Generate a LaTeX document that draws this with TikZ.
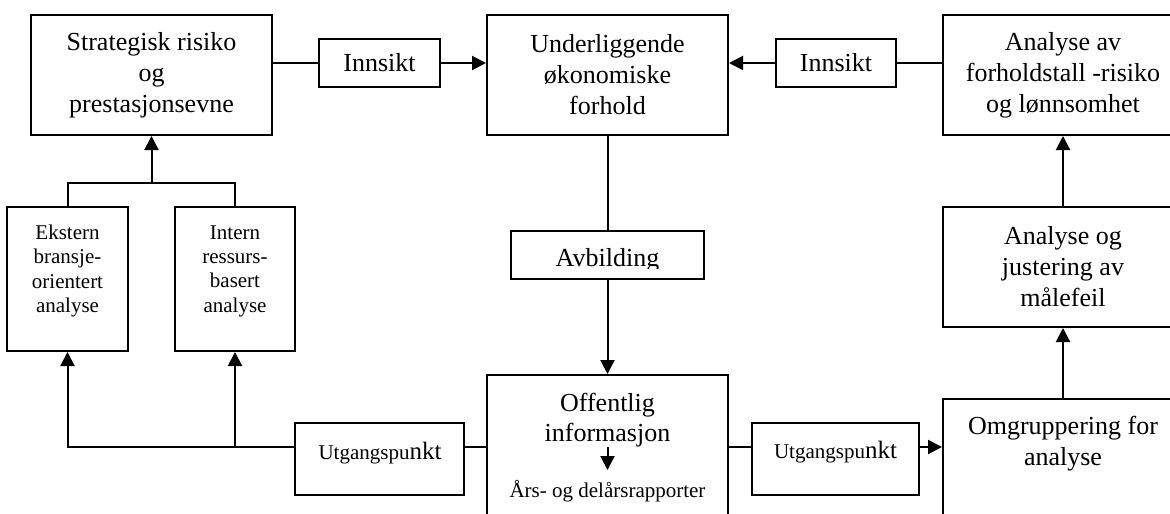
\documentclass[tikz,border=0pt]{standalone}
\usepackage{fontspec}
\setmainfont{Liberation Serif}
\usetikzlibrary{arrows.meta}
\newcommand{\bigf}{\fontsize{26}{31}\selectfont}
\newcommand{\smallf}{\fontsize{21}{24.4}\selectfont}
\begin{document}
\begin{tikzpicture}[x=1pt,y=-1pt, line width=2pt,
  box/.style={draw, line width=2pt, inner sep=0pt, align=center, font=\bigf},
  txt/.style={inner sep=0pt, align=center, font=\bigf},
  stxt/.style={inner sep=0pt, align=center, font=\smallf},
  arr/.style={-{Triangle[length=14pt,width=14pt]}}]
\useasboundingbox (0,0) rectangle (1170,514);
\clip (0,0) rectangle (1170,514);
% top row
\node[box, minimum width=241pt, minimum height=120pt] (strat) at (151.5,75) {Strategisk risiko\\og\\prestasjonsevne};
\node[box, minimum width=121pt, minimum height=48pt] (innsL) at (379.5,63) {Innsikt};
\node[box, minimum width=241pt, minimum height=120pt] (under) at (607.5,75) {Underliggende\\økonomiske\\forhold};
\node[box, minimum width=120pt, minimum height=48pt] (innsR) at (836,63) {Innsikt};
\node[box, minimum width=240pt, minimum height=120pt] (anal) at (1063,75) {Analyse av\\forholdstall -risiko\\og lønnsomhet};
% left column
\node[box, minimum width=121pt, minimum height=144pt] (ekst) at (67.5,279) {};
\node[stxt] (ekstT) at (67.5,271) {Ekstern\\bransje-\\orientert\\analyse};
\node[box, minimum width=120pt, minimum height=144pt] (intern) at (235,279) {};
\node[stxt] (internT) at (235,271) {Intern\\ressurs-\\basert\\analyse};
% middle
\node[box, minimum width=193pt, minimum height=48pt] (avb) at (607.5,255) {};
\begin{scope}
  \clip (511,231) rectangle (704,268);
  \node[txt, anchor=base] (avbT) at (607.5,266) {Avbilding};
\end{scope}
\node[box, minimum width=241pt, minimum height=170pt] (offb) at (607.5,460) {};
\node[txt, anchor=base] (offT1) at (607.5,411) {Offentlig};
\node[txt, anchor=base] (offT2) at (607.5,441) {informasjon};
\node[inner sep=0pt, anchor=base, font=\fontsize{21}{24}\selectfont] (offT3) at (607.5,497) {Års- og delårsrapporter};
\coordinate (a1) at (607.5,447);
\coordinate (a2) at (607.5,470);
\draw[arr] (a1) -- (a2);
% bottom row
\node[box, minimum width=169pt, minimum height=72pt] (utgL) at (379.5,459) {};
\node[inner sep=0pt, anchor=base] (utgLT) at (380,459) {\fontsize{21}{24}\selectfont Utgangspu\fontsize{25}{30}\selectfont nkt};
\node[box, minimum width=167pt, minimum height=72pt] (utgR) at (835.5,459) {};
\node[inner sep=0pt, anchor=base] (utgRT) at (835.5,458) {\fontsize{21}{24}\selectfont Utgangspu\fontsize{25}{30}\selectfont nkt};
% right column
\node[box, minimum width=240pt, minimum height=120pt] (just) at (1063,267) {Analyse og\\justering av\\målefeil};
\node[box, minimum width=240pt, minimum height=170pt] (omgr) at (1063,484) {};
\node[txt] (omgrT) at (1063,444) {Omgruppering for\\analyse};
% connectors
\coordinate (yline) at (0,447);
\coordinate (jt) at (0,183);
\draw (innsL.west) -- (innsL.west -| strat.east);
\draw[arr] (innsL.east) -- (innsL.east -| under.west);
\draw[arr] (innsR.west) -- (innsR.west -| under.east);
\draw (innsR.east) -- (innsR.east -| anal.west);
\draw (under.south) -- (avb.north);
\draw[arr] (avb.south) -- (offb.north);
\draw[arr] (just.north) -- (anal.south);
\draw[arr] (omgr.north) -- (just.south);
\draw (ekst.north) -- (ekst.north |- jt) -- (jt -| intern.north) -- (intern.north);
\draw[arr] (jt -| strat.south) -- (strat.south);
\draw[arr] (yline -| utgL.west) -| (ekst.south);
\draw[arr] (yline -| intern.south) -- (intern.south);
\draw (yline -| utgL.east) -- (yline -| offb.west);
\draw (yline -| offb.east) -- (yline -| utgR.west);
\draw[arr] (yline -| utgR.east) -- (yline -| omgr.west);
\end{tikzpicture}
\end{document}
